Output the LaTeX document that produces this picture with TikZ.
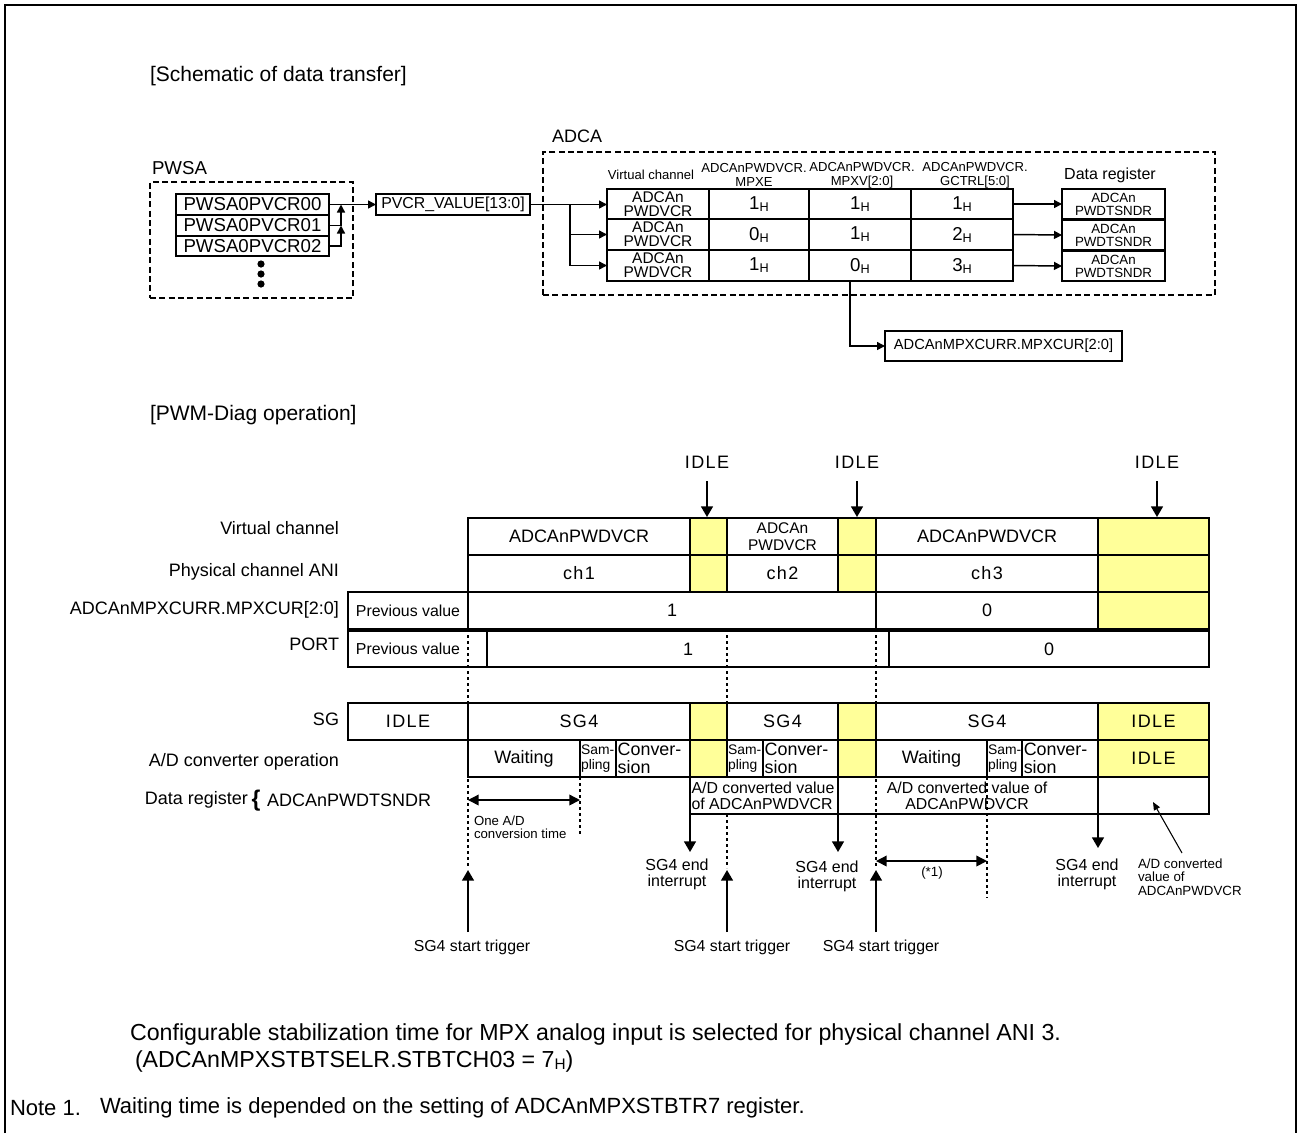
\documentclass[tikz,border=0pt]{standalone}
\usepackage{fontspec}
\setmainfont{Liberation Sans}
\usetikzlibrary{arrows.meta,calc}
\definecolor{yel}{HTML}{FFFF99}
\newcommand\bx[7][]{\node[bxs,#1,minimum width={(#5-#3)*0.75pt},minimum height={(#6-#4)*0.75pt}] (#2) at ({(#3+#5)/2},{(#4+#6)/2}) {#7};}
\newcommand\hx[1]{#1\raisebox{-1.5pt}{\fontsize{9.5pt}{9.5pt}\selectfont H}}
\tikzset{
 bxs/.style={draw,line width=1.6pt,rectangle,align=center},
 yf/.style={fill=yel},
 dbox/.style={draw,line width=1.6pt,dash pattern=on 4.5pt off 2.5pt},
 dot/.style={line width=1.5pt,dash pattern=on 2.5pt off 2pt},
 frm/.style={line width=1.1pt},
 arrS/.style={line width=1.1pt,-{Triangle[length=6pt,width=6pt]}},
 arrL/.style={line width=1.1pt,-{Triangle[length=8pt,width=9pt]}},
 arrD/.style={line width=1.1pt,{Triangle[length=8pt,width=8pt]}-{Triangle[length=8pt,width=8pt]}},
 arrT/.style={line width=0.8pt,-{Triangle[length=6pt,width=5pt]}},
 fHdr/.style={font=\fontsize{15.75pt}{18pt}\selectfont},
 fMain/.style={font=\fontsize{13.5pt}{15pt}\selectfont},
 fSp/.style={font=\fontsize{13.5pt}{15pt}\selectfont\addfontfeature{LetterSpace=8}},
 fBig/.style={font=\fontsize{17.4pt}{20pt}\selectfont},
 fNote/.style={font=\fontsize{16.5pt}{20pt}\selectfont},
 fCell/.style={font=\fontsize{11.6pt}{10.5pt}\selectfont},
 fCell2/.style={font=\fontsize{11.6pt}{12.5pt}\selectfont},
 fHead/.style={font=\fontsize{9.8pt}{10.5pt}\selectfont},
 fDR/.style={font=\fontsize{10pt}{9.75pt}\selectfont},
 fPV/.style={font=\fontsize{11.9pt}{12pt}\selectfont},
 fMPX/.style={font=\fontsize{11pt}{12pt}\selectfont},
 fReg/.style={font=\fontsize{14pt}{15pt}\selectfont},
 fDRh/.style={font=\fontsize{12pt}{13pt}\selectfont},
 fSam/.style={font=\fontsize{10.4pt}{11.25pt}\selectfont},
 fConv/.style={font=\fontsize{13.4pt}{13.5pt}\selectfont},
 fEnd/.style={font=\fontsize{12pt}{12pt}\selectfont},
 fAnn/.style={font=\fontsize{10pt}{10pt}\selectfont},
 fVal/.style={font=\fontsize{14pt}{15pt}\selectfont},
}
\begin{document}
\begin{tikzpicture}[x=0.75pt,y=-0.75pt,every node/.style={inner sep=0pt,outer sep=0pt}]
\useasboundingbox (0,0) rectangle (1301,1133);
\fill[white] (0,0) rectangle (1301,1133);
\draw[frm] (5,1133) -- (5,5) -- (1296,5) -- (1296,1133);

% ---------- schematic ----------
\node[fHdr,anchor=west] (title1) at (150,76) {[Schematic of data transfer]};
\node[fReg,anchor=west] (pwsa) at (152,168) {PWSA};
\bx[dbox]{pwsabox}{150}{182}{353}{298}{}
\bx[fReg]{pv0}{176}{194}{329}{215}{PWSA0PVCR00}
\bx[fReg]{pv1}{176}{215}{329}{236}{PWSA0PVCR01}
\bx[fReg]{pv2}{176}{236}{329}{256}{PWSA0PVCR02}
\fill (261,264) circle [radius=3.6];
\fill (261,274) circle [radius=3.6];
\fill (261,284) circle [radius=3.6];
\bx[fPV]{pvcr}{376}{194}{530}{215}{PVCR\_VALUE[13:0]}
\coordinate (j0) at (341,204.5);
\coordinate (j1) at (341,225.5);
\draw[arrS] (pv0.east) -- (pvcr.west);
\draw[arrS] (pv1.east) -| (j0);
\draw[arrS] (pv2.east) -| (j1);

\node[fMain,anchor=west] (adca) at (552,136) {ADCA};
\bx[dbox]{adcabox}{543}{152}{1215}{295}{}
\node[fHead] (h0) at (651,175) {Virtual channel};
\node[fHead,align=center] (h1) at (754,175) {ADCAnPWDVCR.\\MPXE};
\node[fHead,align=center] (h2) at (862,175) {ADCAnPWDVCR.\\MPXV[2:0]};
\node[fHead,align=center] (h3) at (975,175) {ADCAnPWDVCR.\\GCTRL[5:0]};
\node[fDRh] (h4) at (1110,175) {Data register};

\bx[fCell]{v1}{607}{189}{709}{219}{ADCAn\\PWDVCR}
\bx[fCell]{v2}{607}{219}{709}{250}{ADCAn\\PWDVCR}
\bx[fCell]{v3}{607}{250}{709}{281}{ADCAn\\PWDVCR}
\bx[fVal]{e1}{709}{189}{809}{219}{\hx{1}}
\bx[fVal]{e2}{709}{219}{809}{250}{\hx{0}}
\bx[fVal]{e3}{709}{250}{809}{281}{\hx{1}}
\bx[fVal]{m1}{809}{189}{911}{219}{\hx{1}}
\bx[fVal]{m2}{809}{219}{911}{250}{\hx{1}}
\bx[fVal]{m3}{809}{250}{911}{281}{\hx{0}}
\bx[fVal]{g1}{911}{189}{1013}{219}{\hx{1}}
\bx[fVal]{g2}{911}{219}{1013}{250}{\hx{2}}
\bx[fVal]{g3}{911}{250}{1013}{281}{\hx{3}}
\bx[fDR]{d1}{1062}{189}{1165}{219}{ADCAn\\PWDTSNDR}
\bx[fDR]{d2}{1062}{220}{1165}{250}{ADCAn\\PWDTSNDR}
\bx[fDR]{d3}{1062}{251}{1165}{281}{ADCAn\\PWDTSNDR}
\coordinate (br) at (570,204.5);
\draw[arrS] (pvcr.east) -- (pvcr.east -| v1.west);
\draw[arrS] (br) |- (v2.west);
\draw[arrS] (br) |- (v3.west);
\draw[arrS] (g1.east) -- (d1.west);
\draw[arrS] (g2.east) -- (d2.west);
\draw[arrS] (g3.east) -- (d3.west);
\bx[fMPX]{mpx}{885}{331}{1122}{361}{ADCAnMPXCURR.MPXCUR[2:0]}
\coordinate (mdrop) at (850,281);
\draw[arrS] (mdrop) |- (mpx.west);

% ---------- timing ----------
\node[fHdr,anchor=west] (title2) at (150,415) {[PWM-Diag operation]};

% dotted guide lines
\draw[dot] (468,629) -- (468,868);
\draw[dot] (727,629) -- (727,703);
\draw[dot] (727,814) -- (727,868);
\draw[dot] (876,629) -- (876,868);
\draw[dot] (580,777) -- (580,835);
\draw[dot] (987,777) -- (987,898);

% left labels
\node[fMain,anchor=east] (l1) at (339,528) {Virtual channel};
\node[fMain,anchor=east] (l2) at (339,572) {Physical channel ANI};
\node[fMain,anchor=east] (l3) at (339,610) {ADCAnMPXCURR.MPXCUR[2:0]};
\node[fMain,anchor=east] (l4) at (339,644) {PORT};
\node[fMain,anchor=east] (l5) at (339,719) {SG};
\node[fMain,anchor=east] (l6) at (339,762) {A/D converter operation};
\node[fMain,anchor=east] (l7) at (248,800) {Data register};
\node[font=\fontsize{17pt}{17pt}\selectfont\bfseries] (brace) at (256,801) {\{};
\node[fMain,anchor=west] (l7b) at (267,800) {ADCAnPWDTSNDR};

% row 1
\bx[fMain]{r1a}{468}{518}{690}{555}{ADCAnPWDVCR}
\bx[yf]{r1y1}{690}{518}{727}{555}{}
\bx[fCell2]{r1b}{727}{518}{838}{555}{ADCAn\\PWDVCR}
\bx[yf]{r1y2}{838}{518}{876}{555}{}
\bx[fMain]{r1c}{876}{518}{1098}{555}{ADCAnPWDVCR}
\bx[yf]{r1y3}{1098}{518}{1209}{555}{}
% row 2
\bx[fSp]{r2a}{468}{555}{690}{592}{ch1}
\bx[yf]{r2y1}{690}{555}{727}{592}{}
\bx[fSp]{r2b}{727}{555}{838}{592}{ch2}
\bx[yf]{r2y2}{838}{555}{876}{592}{}
\bx[fSp]{r2c}{876}{555}{1098}{592}{ch3}
\bx[yf]{r2y3}{1098}{555}{1209}{592}{}
% row 3
\bx[fPV]{p3}{348}{592}{468}{629}{Previous value}
\bx[fMain]{r3a}{468}{592}{876}{629}{1}
\bx[fMain]{r3b}{876}{592}{1098}{629}{0}
\bx[yf]{r3y}{1098}{592}{1209}{629}{}
% row 4
\bx[fPV,draw=none]{p4}{348}{631}{468}{667}{Previous value}
\bx[fMain]{r4a}{487}{631}{889}{667}{1}
\bx[fMain]{r4b}{889}{631}{1209}{667}{0}
\draw[line width=1.6pt] (r4a.north west) -- (p4.north west) -- (p4.south west) -- (r4a.south west);
% row 5
\bx[fSp]{sg0}{348}{703}{468}{740}{IDLE}
\bx[fSp]{sg1}{468}{703}{690}{740}{SG4}
\bx[yf]{sgy1}{690}{703}{727}{740}{}
\bx[fSp]{sg2}{727}{703}{838}{740}{SG4}
\bx[yf]{sgy2}{838}{703}{876}{740}{}
\bx[fSp]{sg3}{876}{703}{1098}{740}{SG4}
\bx[fSp,yf]{sgy3}{1098}{703}{1209}{740}{IDLE}
% row 6
\bx[fMain]{a1}{468}{740}{580}{777}{Waiting}
\bx{a2}{580}{740}{616}{777}{}
\bx{a3}{616}{740}{690}{777}{}
\bx[yf]{ay1}{690}{740}{727}{777}{}
\bx{a4}{727}{740}{763}{777}{}
\bx{a5}{763}{740}{838}{777}{}
\bx[yf]{ay2}{838}{740}{876}{777}{}
\bx[fMain]{a6}{876}{740}{987}{777}{Waiting}
\bx{a7}{987}{740}{1022}{777}{}
\bx{a8}{1022}{740}{1098}{777}{}
\bx[fSp,yf]{ay3}{1098}{740}{1209}{777}{IDLE}
\node[fSam,anchor=west,align=left] (a2t) at ([xshift=0.8pt]a2.west) {Sam-\\pling};
\node[fConv,anchor=west,align=left] (a3t) at ([xshift=1.3pt]a3.west) {Conver-\\sion};
\node[fSam,anchor=west,align=left] (a4t) at ([xshift=0.8pt]a4.west) {Sam-\\pling};
\node[fConv,anchor=west,align=left] (a5t) at ([xshift=1.3pt]a5.west) {Conver-\\sion};
\node[fSam,anchor=west,align=left] (a7t) at ([xshift=0.8pt]a7.west) {Sam-\\pling};
\node[fConv,anchor=west,align=left] (a8t) at ([xshift=1.3pt]a8.west) {Conver-\\sion};
% row 7
\bx{rd1}{690}{777}{838}{814}{}
\bx{rd4}{1098}{777}{1209}{814}{}
\draw[line width=1.6pt] (rd1.south east) -- (rd4.south west);
\node[fPV,anchor=west,align=left] (rd1t) at (691.5,796) {A/D converted value\\of ADCAnPWDVCR};
\node[fPV,align=center] (rd3t) at (967,796) {A/D converted value of\\ADCAnPWDVCR};

% IDLE markers
\node[fSp] (i1) at (707,462) {IDLE};
\node[fSp] (i2) at (857,462) {IDLE};
\node[fSp] (i3) at (1157,462) {IDLE};
\coordinate (i1s) at (707,481); \coordinate (i1e) at (707,517);
\coordinate (i2s) at (857,481); \coordinate (i2e) at (857,517);
\coordinate (i3s) at (1157,481); \coordinate (i3e) at (1157,517);
\draw[arrL] (i1s) -- (i1e);
\draw[arrL] (i2s) -- (i2e);
\draw[arrL] (i3s) -- (i3e);

% one A/D conversion time
\coordinate (oa) at (468,800); \coordinate (ob) at (580,800);
\draw[arrD] (oa) -- (ob);
\node[anchor=north west,align=left,font=\fontsize{9.9pt}{9.9pt}\selectfont] (oct) at (474,816) {One A/D\\conversion time};
% (*1)
\coordinate (sa) at (876,861); \coordinate (sb) at (987,861);
\draw[arrD] (sa) -- (sb);
\node[fAnn] (n1) at (932,873) {(*1)};

% SG4 end interrupts
\coordinate (e1) at (690,852);
\coordinate (e2) at (838,852);
\coordinate (e3) at (1098,848);
\draw[arrL] (rd1.south west) -- (e1);
\draw[arrL] (rd1.south east) -- (e2);
\draw[arrL] (rd4.south west) -- (e3);
\node[fEnd,align=center] (ei1) at (677,874) {SG4 end\\interrupt};
\node[fEnd,align=center] (ei2) at (827,876) {SG4 end\\interrupt};
\node[fEnd,align=center] (ei3) at (1087,874) {SG4 end\\interrupt};

% SG4 start triggers
\coordinate (t1b) at (468,932); \coordinate (t1t) at (468,870);
\coordinate (t2b) at (727,932); \coordinate (t2t) at (727,870);
\coordinate (t3b) at (876,932); \coordinate (t3t) at (876,870);
\draw[arrL] (t1b) -- (t1t);
\draw[arrL] (t2b) -- (t2t);
\draw[arrL] (t3b) -- (t3t);
\node[fPV] (st1) at (472,947) {SG4 start trigger};
\node[fPV] (st2) at (732,947) {SG4 start trigger};
\node[fPV] (st3) at (881,947) {SG4 start trigger};

% annotation
\coordinate (an1) at (1182,853);
\coordinate (an2) at (1153,802);
\draw[arrT] (an1) -- (an2);
\node[fAnn,anchor=west,align=left] (ann) at (1138,877) {A/D converted\\value of\\ADCAnPWDVCR};

% bottom text
\node[fBig,anchor=west] (b1) at (130,1034) {Configurable stabilization time for MPX analog input is selected for physical channel ANI 3.};
\node[fBig,anchor=west] (b2) at (135,1061) {(ADCAnMPXSTBTSELR.STBTCH03 = 7\raisebox{-2pt}{\fontsize{11.5pt}{11.5pt}\selectfont H})};
\node[fNote,anchor=west] (nt) at (10,1108) {Note 1.};
\node[fNote,anchor=west] (nt2) at (100,1108) {Waiting time is depended on the setting of ADCAnMPXSTBTR7 register.};
\end{tikzpicture}
\end{document}
